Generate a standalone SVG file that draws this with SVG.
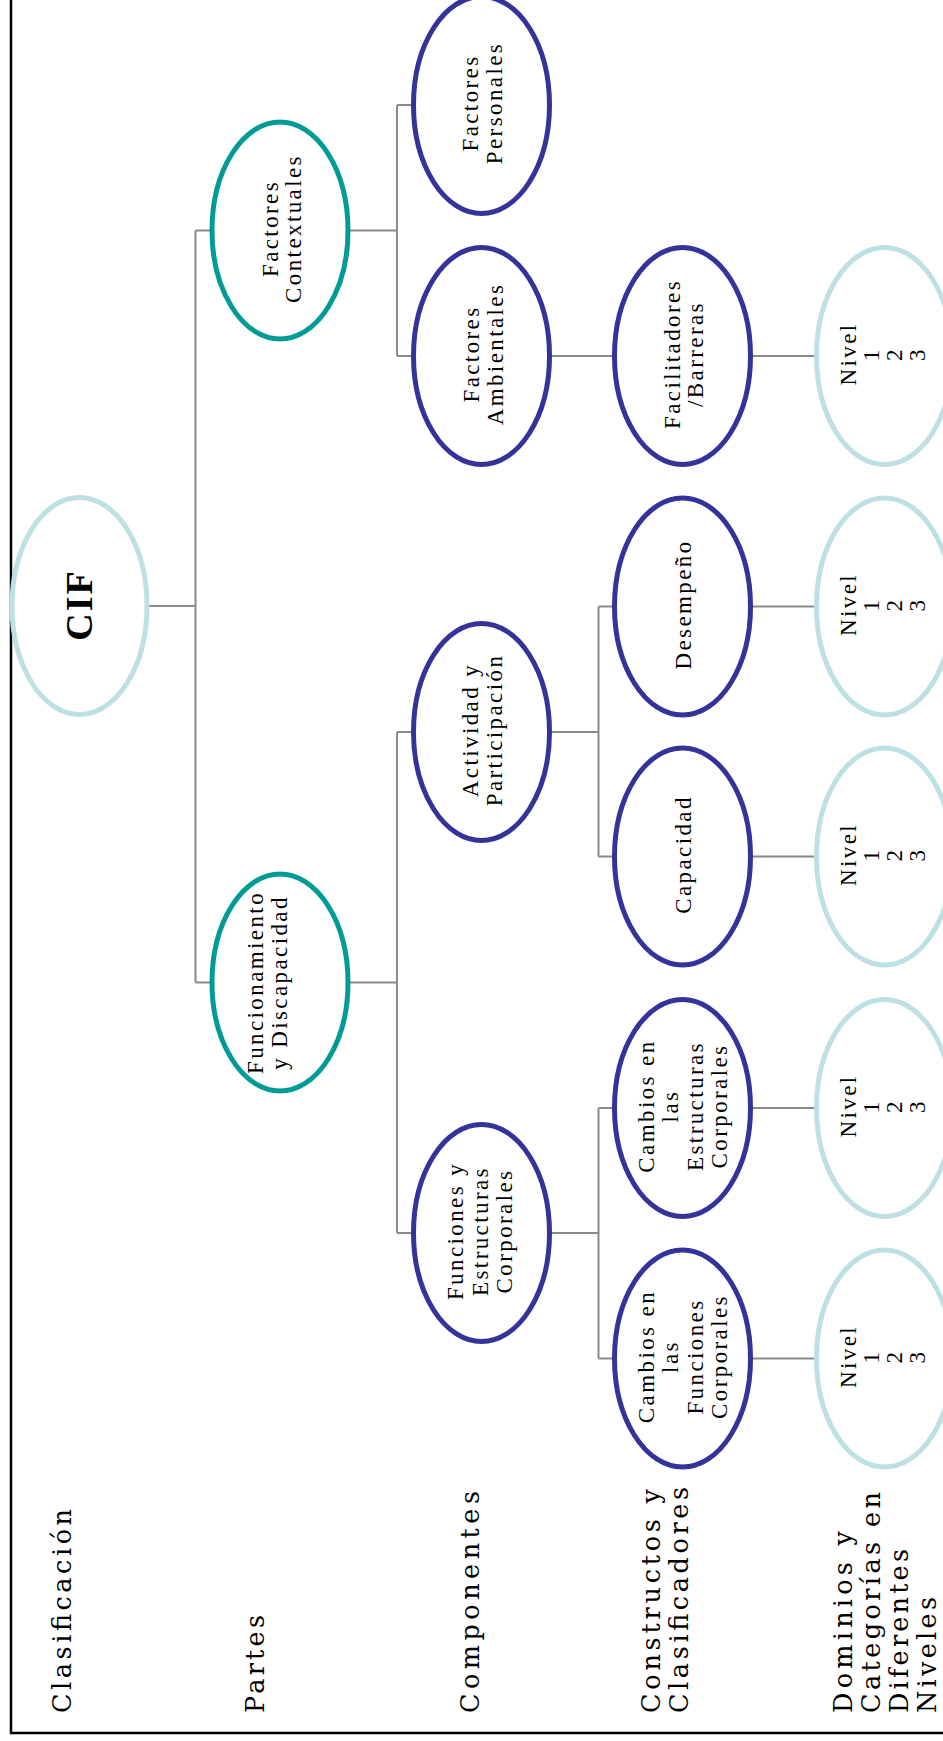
<svg xmlns="http://www.w3.org/2000/svg" width="943" height="1741" viewBox="0 0 943 1741">
<style>
.n ellipse{fill:#fff;stroke-width:5}
.lb ellipse{stroke:#bde0e4}
.tl ellipse{stroke:#009b98}
.db ellipse{stroke:#33339a}
.t{font-family:"Liberation Serif","Times New Roman",serif;font-size:23px;letter-spacing:2.4px;fill:#000;text-anchor:middle}
.cif{font-family:"Liberation Serif","Times New Roman",serif;font-size:38px;font-weight:bold;letter-spacing:2px;fill:#000;text-anchor:middle}
.lab{font-family:"DejaVu Serif","Liberation Serif",serif;font-size:25.5px;fill:#000}
#connectors path{fill:none;stroke:#8a8a8a;stroke-width:2}
</style>
<rect x="0" y="0" width="943" height="1741" fill="#fff"/>
<rect x="11" y="-20" width="1000" height="1753" fill="none" stroke="#000" stroke-width="2.5"/>

<g id="connectors">
<path d="M147 606 H195.5 M195.5 230.5 V982.5 M195.5 230.5 H212 M195.5 982.5 H212
M348 230.5 H397 M397 105 V356 M397 105 H414 M397 356 H414
M348 982.5 H397 M397 732 V1233 M397 732 H414 M397 1233 H414
M549 356 H615 M750 356 H817
M549 732 H598.5 M598.5 606.5 V856.5 M598.5 606.5 H615 M598.5 856.5 H615
M549 1233 H598.5 M598.5 1108 V1358.5 M598.5 1108 H615 M598.5 1358.5 H615
M750 606.5 H817 M750 856.5 H817 M750 1108 H817 M750 1358.5 H817"/>
</g>

<g id="labels">
<text class="lab" transform="translate(71,1713) rotate(-90)" textLength="204" lengthAdjust="spacing">Clasificación</text>
<text class="lab" transform="translate(264,1713) rotate(-90)" textLength="98" lengthAdjust="spacing">Partes</text>
<text class="lab" transform="translate(479,1713) rotate(-90)" textLength="222" lengthAdjust="spacing">Componentes</text>
<text class="lab" transform="translate(660,1713) rotate(-90)" textLength="224" lengthAdjust="spacing">Constructos y</text>
<text class="lab" transform="translate(688,1713) rotate(-90)" textLength="226" lengthAdjust="spacing">Clasificadores</text>
<text class="lab" transform="translate(852,1713) rotate(-90)" textLength="182" lengthAdjust="spacing">Dominios y</text>
<text class="lab" transform="translate(880,1713) rotate(-90)" textLength="221" lengthAdjust="spacing">Categorías en</text>
<text class="lab" transform="translate(908,1713) rotate(-90)" textLength="164" lengthAdjust="spacing">Diferentes</text>
<text class="lab" transform="translate(936,1713) rotate(-90)" textLength="116" lengthAdjust="spacing">Niveles</text>
</g>

<g id="n-cif" class="n lb">
<ellipse cx="79.5" cy="606" rx="67.5" ry="108.5"/>
<text class="cif" transform="translate(79.5,606) rotate(-90)" x="1" y="12">CIF</text>
</g>

<g id="n-fc" class="n tl">
<ellipse cx="280" cy="230.5" rx="68" ry="108.5"/>
<text class="t" transform="translate(280,230.5) rotate(-90)"><tspan x="2" y="-2.5">Factores</tspan><tspan x="2" y="21">Contextuales</tspan></text>
</g>

<g id="n-fd" class="n tl">
<ellipse cx="280" cy="982.5" rx="68" ry="108.5"/>
<text class="t" transform="translate(280,982.5) rotate(-90)"><tspan x="0" y="-17.5">Funcionamiento</tspan><tspan x="0" y="7">y Discapacidad</tspan></text>
</g>

<g id="n-fp" class="n db">
<ellipse cx="481.5" cy="105" rx="68" ry="108.5"/>
<text class="t" transform="translate(481.5,105) rotate(-90)"><tspan x="2" y="-3.5">Factores</tspan><tspan x="2" y="20">Personales</tspan></text>
</g>

<g id="n-fa" class="n db">
<ellipse cx="481.5" cy="356" rx="68" ry="108.5"/>
<text class="t" transform="translate(481.5,356) rotate(-90)"><tspan x="2" y="-3">Factores</tspan><tspan x="2" y="21">Ambientales</tspan></text>
</g>

<g id="n-ap" class="n db">
<ellipse cx="481.5" cy="732" rx="68" ry="108.5"/>
<text class="t" transform="translate(481.5,732) rotate(-90)"><tspan x="2" y="-3.5">Actividad y</tspan><tspan x="2" y="20">Participación</tspan></text>
</g>

<g id="n-fec" class="n db">
<ellipse cx="481.5" cy="1233" rx="68" ry="108.5"/>
<text class="t" transform="translate(481.5,1233) rotate(-90)"><tspan x="2" y="-18.5">Funciones y</tspan><tspan x="2" y="6">Estructuras</tspan><tspan x="2" y="30.5">Corporales</tspan></text>
</g>

<g id="n-fb" class="n db">
<ellipse cx="682.5" cy="356" rx="68" ry="108.5"/>
<text class="t" transform="translate(682.5,356) rotate(-90)"><tspan x="2" y="-3">Facilitadores</tspan><tspan x="2" y="20">/Barreras</tspan></text>
</g>

<g id="n-des" class="n db">
<ellipse cx="682.5" cy="606.5" rx="68" ry="108.5"/>
<text class="t" transform="translate(682.5,606.5) rotate(-90)" x="2" y="8">Desempeño</text>
</g>

<g id="n-cap" class="n db">
<ellipse cx="682.5" cy="856.5" rx="68" ry="108.5"/>
<text class="t" transform="translate(682.5,856.5) rotate(-90)" x="2" y="8">Capacidad</text>
</g>

<g id="n-cec" class="n db">
<ellipse cx="682.5" cy="1108" rx="68" ry="108.5"/>
<text class="t" transform="translate(682.5,1108) rotate(-90)"><tspan x="2" y="-29">Cambios en</tspan><tspan x="2" y="-4.5">las</tspan><tspan x="2" y="20">Estructuras</tspan><tspan x="2" y="44.5">Corporales</tspan></text>
</g>

<g id="n-cfc" class="n db">
<ellipse cx="682.5" cy="1358.5" rx="68" ry="108.5"/>
<text class="t" transform="translate(682.5,1358.5) rotate(-90)"><tspan x="2" y="-29">Cambios en</tspan><tspan x="2" y="-4.5">las</tspan><tspan x="2" y="20">Funciones</tspan><tspan x="2" y="44.5">Corporales</tspan></text>
</g>

<g id="n-niv1" class="n lb">
<ellipse cx="884.5" cy="356" rx="68" ry="108.5"/>
<text class="t" transform="translate(884.5,356) rotate(-90)"><tspan x="2" y="-28.5">Nivel</tspan><tspan x="2" y="-5.5">1</tspan><tspan x="2" y="17.5">2</tspan><tspan x="2" y="40.5">3</tspan></text>
</g>
<g id="n-niv2" class="n lb">
<ellipse cx="884.5" cy="606.5" rx="68" ry="108.5"/>
<text class="t" transform="translate(884.5,606.5) rotate(-90)"><tspan x="2" y="-28.5">Nivel</tspan><tspan x="2" y="-5.5">1</tspan><tspan x="2" y="17.5">2</tspan><tspan x="2" y="40.5">3</tspan></text>
</g>
<g id="n-niv3" class="n lb">
<ellipse cx="884.5" cy="856.5" rx="68" ry="108.5"/>
<text class="t" transform="translate(884.5,856.5) rotate(-90)"><tspan x="2" y="-28.5">Nivel</tspan><tspan x="2" y="-5.5">1</tspan><tspan x="2" y="17.5">2</tspan><tspan x="2" y="40.5">3</tspan></text>
</g>
<g id="n-niv4" class="n lb">
<ellipse cx="884.5" cy="1108" rx="68" ry="108.5"/>
<text class="t" transform="translate(884.5,1108) rotate(-90)"><tspan x="2" y="-28.5">Nivel</tspan><tspan x="2" y="-5.5">1</tspan><tspan x="2" y="17.5">2</tspan><tspan x="2" y="40.5">3</tspan></text>
</g>
<g id="n-niv5" class="n lb">
<ellipse cx="884.5" cy="1358.5" rx="68" ry="108.5"/>
<text class="t" transform="translate(884.5,1358.5) rotate(-90)"><tspan x="2" y="-28.5">Nivel</tspan><tspan x="2" y="-5.5">1</tspan><tspan x="2" y="17.5">2</tspan><tspan x="2" y="40.5">3</tspan></text>
</g>
</svg>
